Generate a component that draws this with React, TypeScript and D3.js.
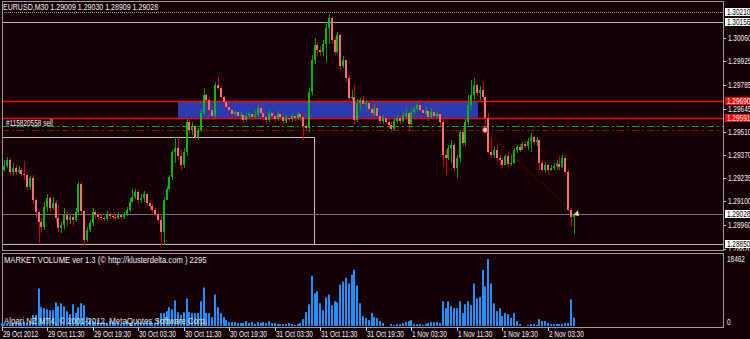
import React from 'react';
import * as d3 from 'd3';

const W = 750, H = 339;

const symbolHeader = 'EURUSD,M30  1.29009 1.29030 1.28909 1.29028';
const indicatorTitle = 'MARKET VOLUME ver 1.3 (© http://klusterdelta.com ) 2295';
const watermark = 'Alpari NZ MT4, © 2001-2012, MetaQuotes Software Corp.';
const orderLabel = '#115820558 sell';

const firstOpen = 1.29214;
const closes = [
  1.29285,1.29308,1.29343,1.29273,1.29296,1.29273,1.29285,1.29261,1.29255,1.29185,
  1.29238,1.29108,1.29038,1.28979,1.28950,1.29067,1.29120,1.29061,1.29091,1.29003,
  1.28944,1.28962,1.29020,1.28991,1.29009,1.28991,1.29038,1.29202,1.29044,1.28873,
  1.28932,1.28973,1.29038,1.29020,1.29009,1.29003,1.28997,1.29026,1.29015,1.29009,
  1.29003,1.29020,1.29009,1.29026,1.29050,1.29097,1.29126,1.29155,1.29108,1.29120,
  1.29144,1.29091,1.29073,1.29050,1.29026,1.28991,1.28921,1.29108,1.29173,1.29244,
  1.29390,1.29414,1.29367,1.29314,1.29390,1.29567,1.29520,1.29543,1.29478,1.29520,
  1.29619,1.29725,1.29696,1.29637,1.29602,1.29784,1.29766,1.29713,1.29684,1.29655,
  1.29637,1.29614,1.29625,1.29602,1.29608,1.29578,1.29602,1.29614,1.29596,1.29608,
  1.29649,1.29619,1.29596,1.29578,1.29619,1.29602,1.29584,1.29614,1.29596,1.29572,
  1.29590,1.29584,1.29602,1.29590,1.29614,1.29596,1.29543,1.29531,1.29743,1.29931,
  1.30019,1.29990,1.29978,1.30025,1.30119,1.30177,1.30048,1.29978,1.30078,1.29896,
  1.29931,1.29825,1.29708,1.29713,1.29578,1.29678,1.29696,1.29672,1.29678,1.29643,
  1.29619,1.29649,1.29602,1.29572,1.29590,1.29567,1.29549,1.29525,1.29572,1.29590,
  1.29572,1.29602,1.29619,1.29555,1.29625,1.29643,1.29666,1.29637,1.29619,1.29631,
  1.29596,1.29625,1.29602,1.29614,1.29567,1.29373,1.29355,1.29414,1.29431,1.29296,
  1.29355,1.29508,1.29443,1.29567,1.29666,1.29725,1.29784,1.29737,1.29755,1.29713,
  1.29590,1.29390,1.29373,1.29402,1.29355,1.29343,1.29314,1.29367,1.29320,1.29326,
  1.29402,1.29420,1.29402,1.29437,1.29426,1.29455,1.29478,1.29449,1.29461,1.29326,
  1.29285,1.29314,1.29285,1.29296,1.29308,1.29320,1.29302,1.29355,1.29273,1.29050,
  1.29009,1.29028,
];
const highs = [
  1.29314,1.29343,1.29361,1.29355,1.29326,1.29314,1.29308,1.29296,1.29337,1.29267,
  1.29249,1.29255,1.29120,1.29050,1.29003,1.29097,1.29144,1.29132,1.29126,1.29108,
  1.29079,1.28979,1.29061,1.29038,1.29026,1.29020,1.29061,1.29214,1.29214,1.29050,
  1.28950,1.28991,1.29061,1.29050,1.29032,1.29020,1.29015,1.29044,1.29038,1.29026,
  1.29020,1.29038,1.29026,1.29038,1.29067,1.29120,1.29173,1.29173,1.29167,1.29144,
  1.29161,1.29144,1.29108,1.29085,1.29061,1.29038,1.29026,1.29126,1.29191,1.29255,
  1.29402,1.29478,1.29478,1.29402,1.29414,1.29590,1.29578,1.29567,1.29543,1.29531,
  1.29637,1.29766,1.29731,1.29708,1.29649,1.29802,1.29837,1.29778,1.29719,1.29696,
  1.29661,1.29649,1.29637,1.29631,1.29625,1.29614,1.29619,1.29625,1.29619,1.29637,
  1.29666,1.29661,1.29637,1.29608,1.29637,1.29631,1.29619,1.29631,1.29625,1.29608,
  1.29608,1.29602,1.29614,1.29608,1.29625,1.29625,1.29619,1.29561,1.29766,1.29960,
  1.30060,1.30037,1.30013,1.30048,1.30154,1.30201,1.30190,1.30066,1.30095,1.30084,
  1.29954,1.29931,1.29843,1.29755,1.29784,1.29702,1.29708,1.29719,1.29696,1.29684,
  1.29661,1.29666,1.29661,1.29614,1.29608,1.29596,1.29584,1.29567,1.29590,1.29608,
  1.29614,1.29625,1.29649,1.29631,1.29649,1.29661,1.29684,1.29678,1.29649,1.29655,
  1.29643,1.29649,1.29637,1.29631,1.29625,1.29590,1.29402,1.29431,1.29461,1.29443,
  1.29373,1.29520,1.29531,1.29590,1.29725,1.29813,1.29825,1.29790,1.29778,1.29802,
  1.29725,1.29619,1.29473,1.29426,1.29431,1.29373,1.29355,1.29378,1.29390,1.29373,
  1.29414,1.29431,1.29437,1.29449,1.29455,1.29473,1.29502,1.29484,1.29478,1.29461,
  1.29343,1.29332,1.29320,1.29314,1.29326,1.29343,1.29367,1.29373,1.29367,1.29285,
  1.29061,1.29030,
];
const lows = [
  1.29197,1.29273,1.29296,1.29255,1.29255,1.29255,1.29261,1.29244,1.29226,1.29167,
  1.29167,1.29085,1.29003,1.28856,1.28921,1.28932,1.29038,1.29038,1.29050,1.28979,
  1.28921,1.28915,1.28932,1.28956,1.28968,1.28956,1.28979,1.29026,1.29026,1.28844,
  1.28862,1.28921,1.28956,1.28997,1.28991,1.28991,1.28985,1.28985,1.28997,1.28997,
  1.28991,1.28997,1.28997,1.28997,1.29015,1.29038,1.29091,1.29114,1.29085,1.29091,
  1.29097,1.29073,1.29050,1.29032,1.29015,1.28973,1.28844,1.28844,1.29108,1.29167,
  1.29226,1.29326,1.29343,1.29285,1.29296,1.29367,1.29496,1.29490,1.29461,1.29461,
  1.29508,1.29608,1.29661,1.29614,1.29578,1.29590,1.29755,1.29702,1.29666,1.29637,
  1.29619,1.29596,1.29602,1.29584,1.29590,1.29561,1.29572,1.29590,1.29578,1.29590,
  1.29602,1.29602,1.29578,1.29561,1.29567,1.29590,1.29567,1.29572,1.29578,1.29555,
  1.29561,1.29572,1.29567,1.29572,1.29578,1.29572,1.29461,1.29514,1.29508,1.29725,
  1.29907,1.29954,1.29954,1.29954,1.29919,1.30025,1.30025,1.29960,1.29966,1.29872,
  1.29884,1.29802,1.29684,1.29696,1.29555,1.29567,1.29637,1.29661,1.29649,1.29625,
  1.29602,1.29602,1.29584,1.29555,1.29555,1.29555,1.29531,1.29508,1.29514,1.29555,
  1.29555,1.29567,1.29590,1.29514,1.29549,1.29614,1.29631,1.29619,1.29602,1.29608,
  1.29572,1.29584,1.29584,1.29590,1.29543,1.29302,1.29255,1.29343,1.29326,1.29273,
  1.29238,1.29332,1.29426,1.29426,1.29549,1.29637,1.29696,1.29719,1.29696,1.29696,
  1.29520,1.29384,1.29355,1.29355,1.29332,1.29314,1.29296,1.29314,1.29308,1.29308,
  1.29320,1.29384,1.29390,1.29402,1.29414,1.29402,1.29390,1.29431,1.29426,1.29285,
  1.29273,1.29273,1.29261,1.29279,1.29285,1.29285,1.29285,1.29296,1.29261,1.29038,
  1.28950,1.28909,
];
const volumes = [
  820,540,820,540,820,1090,820,820,1090,820,
  1360,2990,2990,10340,5170,4900,4620,4350,4350,6530,
  5440,6260,5440,4080,3260,5980,3540,5170,6260,5710,
  2450,1900,1360,1090,1630,820,1090,820,1360,1090,
  820,1090,540,820,1360,820,1090,820,1360,1090,
  820,1360,1090,820,820,1900,3540,3540,4080,5170,
  4620,7070,3810,2990,3810,7620,3810,3540,3540,3540,
  6800,10610,3540,3540,2450,8700,5170,3540,2450,1630,
  1090,1090,1090,820,820,820,1360,820,1090,540,
  1090,820,1090,820,1360,820,820,540,540,540,
  540,820,540,270,540,820,1900,3810,5980,13870,
  8980,9520,6260,4350,7890,8700,5710,6800,6530,11420,
  12240,13330,11700,14140,15500,11150,6260,2720,2180,1630,
  3540,2450,2180,1360,820,0,0,540,270,540,
  540,820,1090,1360,1630,540,540,540,270,540,
  820,1090,1090,1090,820,6800,4900,6800,5440,4900,
  4900,6800,3540,5980,6800,5710,11700,7620,7890,15500,
  10880,18462,11700,6260,4080,4900,2720,3540,3260,2180,
  3540,1360,540,0,0,270,540,540,270,1900,
  1360,1360,820,540,540,540,540,540,820,820,
  7340,2295,
];
const volumeMax = 18462;

const timeLabels = ['29 Oct 2012','29 Oct 11:30','29 Oct 19:30','30 Oct 03:30','30 Oct 11:30','30 Oct 19:30',
  '31 Oct 03:30','31 Oct 11:30','31 Oct 19:30','1 Nov 03:30','1 Nov 11:30','1 Nov 19:30','2 Nov 03:30'];
const timeLabelBars = [0,16,32,48,64,80,96,112,128,144,160,176,192];

const priceTicks = [1.30060,1.29925,1.29785,1.29645,1.29510,1.29370,1.29235,1.29100,1.28960,1.28820];

const grayLines = [
  { price: 1.30210, dash: '1,1', color: '#9a9a9a' },
  { price: 1.30156, dash: '', color: '#b4b4b4' },
  { price: 1.28850, dash: '', color: '#b4b4b4' },
];
const redLines = [1.29690, 1.29591];
const bidPrice = 1.29028;
const orderPrice = 1.29543;
const stopPrice = 1.29520;
const zone = { startBar: 62, endBar: 167.4, top: 1.29690, bottom: 1.29591 };
const box = { startBar: 0, endBar: 109.8, top: 1.29478, bottom: 1.28850 };
const tradeLine = { fromBar: 169.9, fromPrice: 1.29520, toBar: 199.8, toPrice: 1.29050 };

const BG = '#140004';
const FONT = 'Liberation Sans, Arial, sans-serif';

function T({ x, y, children, fill = '#f0f0f0', size = 8.5, sx = 0.76, anchor = 'start' }: any) {
  return (
    <text transform={`translate(${x},${y}) scale(${sx},1)`} fontFamily={FONT} fontSize={size}
      fill={fill} textAnchor={anchor}>{children}</text>
  );
}

export default function App() {
  const x = d3.scaleLinear().domain([0, 192]).range([1.5, 548]);
  const y = d3.scaleLinear().domain([1.28850, 1.30060]).range([244, 38]);
  const yv = d3.scaleLinear().domain([0, volumeMax]).range([326, 259]);

  const L = 2, R = 723, mainTop = 2, mainBot = 250, indTop = 253, indBot = 327;

  const candles = closes.map((c, i) => {
    const o = i === 0 ? firstOpen : closes[i - 1];
    return { i, o, c, h: Math.max(highs[i], o, c), l: Math.min(lows[i], o, c) };
  });

  const labelBox = (price: number, bg: string, fg: string, key: string) => {
    const yy = Math.round(y(price));
    return (
      <g key={key}>
        <rect x={725} y={yy - 4} width={26} height={8} fill={bg} />
        <T x={727} y={yy + 3} fill={fg}>{price.toFixed(5)}</T>
      </g>
    );
  };

  return (
    <svg width={W} height={H} style={{ position: 'fixed', left: 0, top: 0, display: 'block' }}>
      <defs>
        <clipPath id="mainClip"><rect x={L} y={mainTop} width={R - L} height={mainBot - mainTop} /></clipPath>
        <clipPath id="axisClip"><rect x={R} y={0} width={W - R} height={mainBot + 1} /></clipPath>
      </defs>
      <rect x={0} y={0} width={W} height={H} fill={BG} />

      <g clipPath="url(#mainClip)">
        <rect x={x(zone.startBar)} y={y(zone.top)} width={x(zone.endBar) - x(zone.startBar)}
          height={y(zone.bottom) - y(zone.top)} fill="#2b3cb3" />
        <rect x={x(box.startBar) + 0.5} y={Math.round(y(box.top)) + 0.5}
          width={x(box.endBar) - x(box.startBar)} height={y(box.bottom) - y(box.top)}
          fill="none" stroke="#c4c4c4" strokeWidth={1} />
        {grayLines.map((g, k) => (
          <line key={'g' + k} x1={L} x2={R} y1={Math.round(y(g.price)) + 0.5} y2={Math.round(y(g.price)) + 0.5}
            stroke={g.color} strokeDasharray={g.dash || undefined} />
        ))}
        <line x1={L} x2={R} y1={Math.round(y(bidPrice)) + 0.5} y2={Math.round(y(bidPrice)) + 0.5} stroke="#66707e" />
        <line x1={L} x2={R} y1={Math.round(y(orderPrice)) + 0.5} y2={Math.round(y(orderPrice)) + 0.5}
          stroke="#00b400" strokeDasharray="7,3,2,3" />
        <line x1={L} x2={R} y1={Math.round(y(stopPrice)) + 0.5} y2={Math.round(y(stopPrice)) + 0.5}
          stroke="#a00000" strokeDasharray="7,3,2,3" />
        {redLines.map((p, k) => (
          <line key={'r' + k} x1={L} x2={R} y1={Math.round(y(p)) + 0.5} y2={Math.round(y(p)) + 0.5} stroke="#ff0000" strokeWidth={1.3} />
        ))}

        <g shapeRendering="crispEdges">
          {candles.map(d => {
            const cx = Math.round(x(d.i));
            const bull = d.c >= d.o;
            const top = Math.min(y(d.o), y(d.c));
            const bh = Math.max(1, Math.abs(y(d.o) - y(d.c)));
            return (
              <g key={d.i}>
                <rect x={cx} y={y(d.h)} width={1} height={Math.max(1, y(d.l) - y(d.h))}
                  fill={bull ? '#00a000' : '#d00000'} />
                <rect x={cx - 1} y={top} width={2} height={bh}
                  fill={bull ? '#00b800' : '#ff6e6e'} />
              </g>
            );
          })}
        </g>

        <line x1={x(tradeLine.fromBar)} y1={y(tradeLine.fromPrice)} x2={x(tradeLine.toBar)} y2={y(tradeLine.toPrice)}
          stroke="#c80000" strokeDasharray="1,2" />
        <circle cx={x(tradeLine.fromBar)} cy={y(tradeLine.fromPrice)} r={2.5} fill="#ffd8d8" stroke="#ff3030" strokeWidth={1} />
        <path d={`M${x(201) + 1},${y(bidPrice) + 1} l3,-4 l1,5 z`} fill="#ffe070" stroke="#fff4c0" strokeWidth={0.6} />

        <T x={3} y={10} sx={0.83}>{symbolHeader}</T>
        <T x={6} y={125.5}>{orderLabel}</T>
      </g>

      <rect x={L + 0.5} y={mainTop - 0.5} width={R - L} height={mainBot - mainTop + 1} fill="none" stroke="#9a9a9a" />
      <rect x={L + 0.5} y={indTop + 0.5} width={R - L} height={indBot - indTop} fill="none" stroke="#9a9a9a" />

      <g clipPath="url(#axisClip)">
        {priceTicks.map((p, k) => {
          const yy = Math.round(y(p));
          return (
            <g key={'pt' + k}>
              <line x1={R} x2={R + 3} y1={yy + 0.5} y2={yy + 0.5} stroke="#c8c8c8" />
              <T x={728} y={yy + 3}>{p.toFixed(5)}</T>
            </g>
          );
        })}
        {labelBox(1.30210, '#ffffff', '#000000', 'b1')}
        {labelBox(1.30156, '#ffffff', '#000000', 'b2')}
        {labelBox(1.29690, '#ff0000', '#ffffff', 'b3')}
        {labelBox(1.29591, '#ff0000', '#ffffff', 'b4')}
        {labelBox(bidPrice, '#ffffff', '#000000', 'b5')}
        {labelBox(1.28850, '#ffffff', '#000000', 'b6')}
      </g>

      <g>
        {volumes.map((v, i) => v > 0 ? (
          <rect key={'v' + i} x={Math.round(x(i)) - 1} y={yv(v)} width={2} height={yv(0) - yv(v)} fill="#1e90ff" />
        ) : null)}
        <T x={4} y={263} sx={0.9}>{indicatorTitle}</T>
        <T x={4} y={324} sx={0.93} fill="#e0e0e0">{watermark}</T>
        <T x={727} y={262}>{String(volumeMax)}</T>
        <T x={727} y={325}>0</T>
      </g>

      {timeLabelBars.map((b, k) => {
        const xx = Math.round(x(b));
        return (
          <g key={'t' + k}>
            <line x1={xx + 0.5} x2={xx + 0.5} y1={indBot} y2={indBot + 4} stroke="#c8c8c8" />
            <T x={xx + 1} y={337}>{timeLabels[k]}</T>
          </g>
        );
      })}
    </svg>
  );
}
